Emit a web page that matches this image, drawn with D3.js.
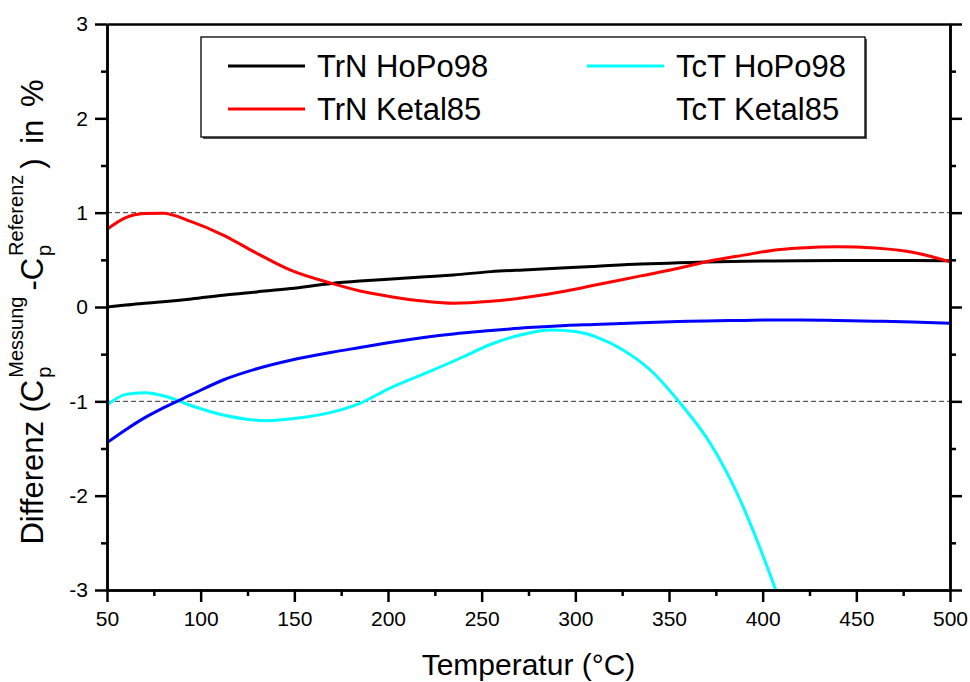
<!DOCTYPE html>
<html>
<head>
<meta charset="utf-8">
<script src="https://cdn.jsdelivr.net/npm/d3@7"></script>
<style>
  body { margin: 0; background: #fff; }
  svg { display: block; font-family: Arial, "Liberation Sans", sans-serif; }
</style>
</head>
<body>
<div id="chart"></div>
<script>
// temperature grid (°C) shared by three series
const temps = [50, 60, 70, 80, 95, 112, 130, 148, 170, 185, 200, 220, 235, 255, 275, 295,
  310, 335, 355, 370, 390, 405, 420, 440, 460, 480, 500];
const trnHoPo = [0.00, 0.02, 0.04, 0.056, 0.085, 0.125, 0.16, 0.195, 0.25, 0.275, 0.295, 0.32,
  0.34, 0.375, 0.395, 0.415, 0.43, 0.455, 0.468, 0.477, 0.485, 0.488, 0.49, 0.492, 0.493, 0.493, 0.49];
const trnKetal = [0.823, 0.947, 0.99, 0.995, 0.905, 0.763, 0.569, 0.39, 0.25, 0.17, 0.115, 0.06,
  0.04, 0.06, 0.105, 0.17, 0.23, 0.33, 0.41, 0.48, 0.55, 0.60, 0.625, 0.639, 0.625, 0.58, 0.48];
const tctKetal = [-1.438, -1.3, -1.175, -1.07, -0.93, -0.774, -0.655, -0.565, -0.48, -0.43, -0.38,
  -0.32, -0.285, -0.25, -0.218, -0.195, -0.185, -0.167, -0.155, -0.148, -0.142, -0.138, -0.138,
  -0.142, -0.15, -0.16, -0.173];
// cyan curve leaves the plot at about 407 °C
const tempsTct = [50, 60, 70, 82, 94, 112, 135, 151, 169, 185, 200, 222, 240, 254, 270, 287, 300,
  313, 325, 340, 356, 372, 388, 399, 407];
const tctHoPo = [-1.039, -0.926, -0.908, -0.951, -1.039, -1.145, -1.205, -1.18, -1.12, -1.021,
  -0.87, -0.686, -0.53, -0.403, -0.3, -0.244, -0.26, -0.332, -0.45, -0.668, -1.02, -1.445,
  -2.046, -2.576, -3.0];

const xTicks = [50, 100, 150, 200, 250, 300, 350, 400, 450, 500];
const yTicks = [-3, -2, -1, 0, 1, 2, 3];
const refLines = [1, -1];

const series = [
  { name: "TrN HoPo98", t: temps, v: trnHoPo, color: "#000000" },
  { name: "TrN Ketal85", t: temps, v: trnKetal, color: "#ff0000" },
  { name: "TcT HoPo98", t: tempsTct, v: tctHoPo, color: "#00ffff" },
  { name: "TcT Ketal85", t: temps, v: tctKetal, color: "#0000ff" }
];

const W = 970, H = 682;
const mLeft = 107, mRight = 950, mTop = 24, mBottom = 590;

const x = d3.scaleLinear().domain([50, 500]).range([mLeft, mRight]);
const y = d3.scaleLinear().domain([-3, 3]).range([mBottom, mTop]);

const svg = d3.select("#chart").append("svg")
  .attr("width", W).attr("height", H);

// dashed reference lines
svg.append("g").selectAll("line")
  .data(refLines)
  .join("line")
  .attr("x1", x(50)).attr("x2", x(500))
  .attr("y1", d => y(d)).attr("y2", d => y(d))
  .attr("stroke", "#333").attr("stroke-width", 1)
  .attr("stroke-dasharray", "5,3");

// curves
const line = d3.line()
  .x(d => x(d[0]))
  .y(d => y(d[1]))
  .curve(d3.curveMonotoneX);

svg.append("g").selectAll("path")
  .data(series)
  .join("path")
  .attr("fill", "none")
  .attr("stroke", d => d.color)
  .attr("stroke-width", 3)
  .attr("d", d => line(d.t.map((t, i) => [t, d.v[i]])));

// axes
const minorX = d3.range(75, 500, 50);
const minorY = d3.range(-2.5, 3, 1);
const plain = d => String(d);

function styleAxis(g) {
  g.selectAll("path, line").attr("stroke", "#000").attr("stroke-width", 2.5);
  g.selectAll("text").attr("font-size", 21).attr("fill", "#000")
    .attr("font-family", 'Arial, "Liberation Sans", sans-serif');
}

svg.append("g")
  .attr("transform", `translate(0,${mBottom})`)
  .call(d3.axisBottom(x).tickValues(xTicks).tickFormat(plain).tickSize(12).tickPadding(9).tickSizeOuter(0))
  .call(styleAxis);
svg.append("g")
  .attr("transform", `translate(0,${mBottom})`)
  .call(d3.axisBottom(x).tickValues(minorX).tickSize(6).tickFormat("").tickSizeOuter(0))
  .call(styleAxis);

svg.append("g")
  .attr("transform", `translate(${mLeft},0)`)
  .call(d3.axisLeft(y).tickValues(yTicks).tickFormat(plain).tickSize(12).tickPadding(7).tickSizeOuter(0))
  .call(styleAxis);
svg.append("g")
  .attr("transform", `translate(${mLeft},0)`)
  .call(d3.axisLeft(y).tickValues(minorY).tickSize(6).tickFormat("").tickSizeOuter(0))
  .call(styleAxis);

svg.append("g")
  .attr("transform", `translate(${mRight},0)`)
  .call(d3.axisRight(y).tickValues(yTicks).tickSize(12).tickFormat("").tickSizeOuter(0))
  .call(styleAxis);
svg.append("g")
  .attr("transform", `translate(${mRight},0)`)
  .call(d3.axisRight(y).tickValues(minorY).tickSize(6).tickFormat("").tickSizeOuter(0))
  .call(styleAxis);

svg.append("g")
  .attr("transform", `translate(0,${mTop})`)
  .call(d3.axisTop(x).tickValues(xTicks).tickSize(0).tickFormat("").tickSizeOuter(0))
  .call(styleAxis);

// axis titles
svg.append("text")
  .attr("x", (mLeft + mRight) / 2).attr("y", 675)
  .attr("text-anchor", "middle")
  .attr("font-size", 30)
  .text("Temperatur (°C)");

// y title: C_p with stacked sub/superscripts, one text chunk centred
const big = 31, small = 20, pW = small * 0.556;
const yt = svg.append("text")
  .attr("transform", `translate(43,312) rotate(-90)`)
  .attr("text-anchor", "middle")
  .attr("font-size", big);
yt.append("tspan").text("Differenz (C");
yt.append("tspan").attr("font-size", small).attr("dx", 2).attr("dy", 8).text("p");
yt.append("tspan").attr("font-size", small).attr("dx", -pW).attr("dy", -28).text("Messung");
yt.append("tspan").attr("dx", 6).attr("dy", 20).text("-C");
yt.append("tspan").attr("font-size", small).attr("dx", 2).attr("dy", 8).text("p");
yt.append("tspan").attr("font-size", small).attr("dx", -pW).attr("dy", -28).text("Referenz");
yt.append("tspan").attr("dx", 6).attr("dy", 20).text(")");
yt.append("tspan").attr("dx", 6).text(" in");
yt.append("tspan").attr("dx", 4).text(" %");

// legend
const lg = svg.append("g");
lg.append("rect")
  .attr("x", 203).attr("y", 39).attr("width", 664).attr("height", 100)
  .attr("fill", "#555");
lg.append("rect")
  .attr("x", 201).attr("y", 37).attr("width", 664).attr("height", 100)
  .attr("fill", "#fff").attr("stroke", "#000").attr("stroke-width", 1.3);

const legendPos = [
  { i: 0, lx: 228, ly: 66, showLine: true },
  { i: 1, lx: 228, ly: 109, showLine: true },
  { i: 2, lx: 587, ly: 66, showLine: true },
  { i: 3, lx: 587, ly: 109, showLine: false }
];
legendPos.forEach(p => {
  const s = series[p.i];
  if (p.showLine) {
    lg.append("line")
      .attr("x1", p.lx).attr("x2", p.lx + 77)
      .attr("y1", p.ly).attr("y2", p.ly)
      .attr("stroke", s.color).attr("stroke-width", 3);
  }
  lg.append("text")
    .attr("x", p.lx + 89).attr("y", p.ly + 11)
    .attr("font-size", 31)
    .text(s.name);
});
</script>
</body>
</html>
